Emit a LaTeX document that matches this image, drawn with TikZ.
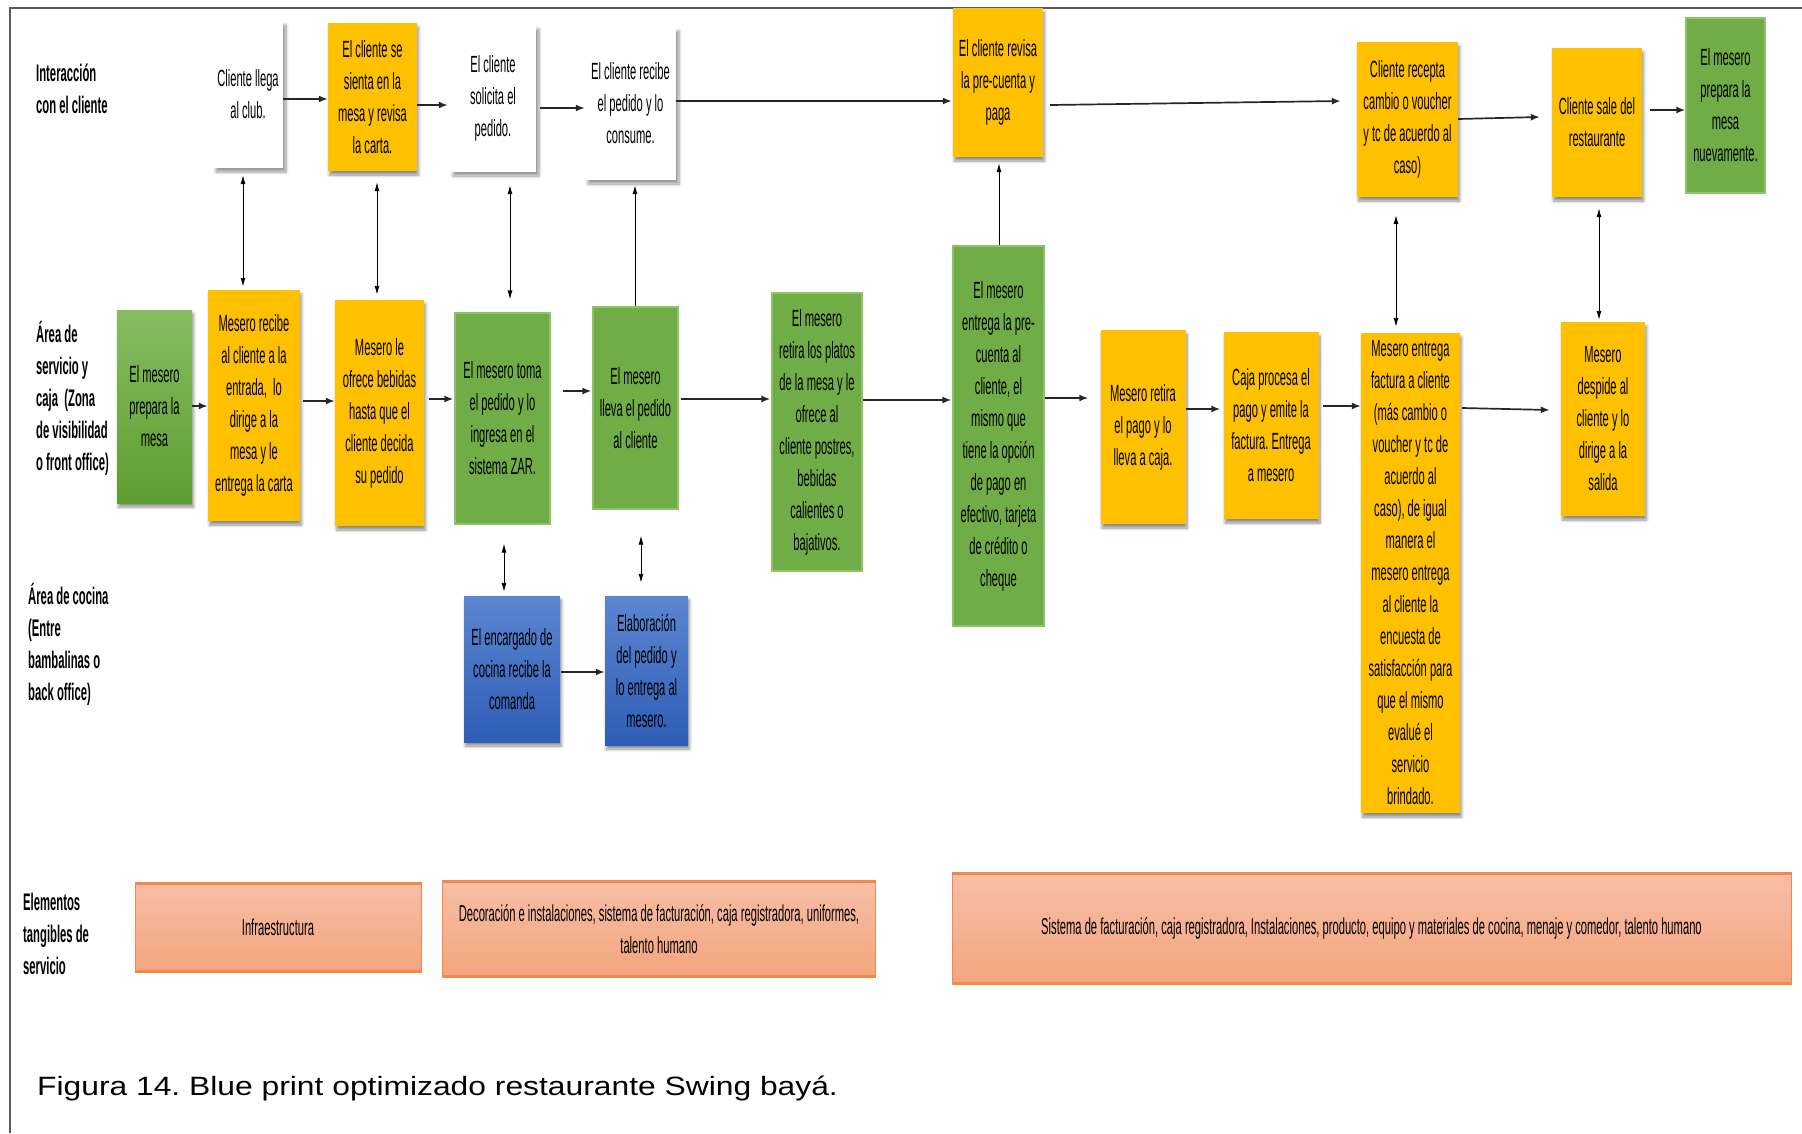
\documentclass[tikz,border=0pt]{standalone}
\usepackage{fontspec}
\setmainfont{Liberation Sans}
\newfontfamily\narrowsans[FakeStretch=0.477]{Liberation Sans}
\newfontfamily\tangsans[FakeStretch=0.487]{Liberation Sans}
\newfontfamily\lanesans[FakeStretch=0.47]{Liberation Sans}
\newfontfamily\widesans[FakeStretch=1.2]{Liberation Sans}
\usetikzlibrary{arrows.meta,calc,shadows.blur}
\frenchspacing

\definecolor{cOrange}{HTML}{FFC000}
\definecolor{cGreen}{HTML}{70AD47}
\definecolor{cGreenEdge}{HTML}{8EC36A}
\definecolor{cGreenTop}{HTML}{86BD60}
\definecolor{cGreenBot}{HTML}{5E9D32}
\definecolor{cBlueTop}{HTML}{5C86D1}
\definecolor{cBlueBot}{HTML}{2E5DB6}
\definecolor{cSalmonTop}{HTML}{F7BEA5}
\definecolor{cSalmonBot}{HTML}{F4A57E}
\definecolor{cSalmonEdge}{HTML}{F08A4B}
\definecolor{cFrame}{HTML}{5A5A5A}

\newcommand\bxfont{\narrowsans\fontsize{23.4pt}{32pt}\selectfont}
\newcommand\tgfont{\tangsans\fontsize{23pt}{32pt}\selectfont}
\newcommand\lnfont{\lanesans\bfseries\fontsize{24pt}{32pt}\selectfont}

\tikzset{
  box/.style={rectangle, inner sep=0pt, align=center, font=\bxfont, text=black},
  softshadow/.style={blur shadow={shadow xshift=1.5pt, shadow yshift=-4pt,
      shadow blur radius=3pt, shadow blur steps=6, shadow opacity=45}},
  whitebox/.style={box, fill=white, blur shadow={shadow xshift=3pt, shadow yshift=-4pt,
      shadow blur radius=3pt, shadow blur steps=6, shadow opacity=40}},
  orangebox/.style={box, fill=cOrange, softshadow},
  greenbox/.style={box, fill=cGreen, draw=cGreenEdge, line width=1.2pt},
  greengrad/.style={box, top color=cGreenTop, bottom color=cGreenBot, softshadow},
  bluebox/.style={box, top color=cBlueTop, bottom color=cBlueBot, softshadow},
  tanbox/.style={box, font=\tgfont, top color=cSalmonTop, bottom color=cSalmonBot,
      draw=cSalmonEdge, line width=1pt},
  tanedge/.style={draw=cSalmonEdge, line width=3pt},
  lane/.style={anchor=west, align=left, inner sep=0pt, font=\lnfont},
  arr/.style={-{Latex[length=9pt,width=7pt]}, line width=1.7pt, draw=black!85},
  varr/.style={{Latex[length=9pt,width=5pt]}-{Latex[length=9pt,width=5pt]}, line width=0.9pt},
  uparr/.style={-{Latex[length=9pt,width=5pt]}, line width=0.9pt}
}

\begin{document}
\begin{tikzpicture}[x=1pt, y=-1pt]
\useasboundingbox (0,0) rectangle (1802,1133);

% outer frame (top and left edges)
\draw[cFrame, line width=2pt] (10,1133) -- (10,7.5) -- (1802,7.5);

% lane titles
\node[lane] (lane1) at (36,89) {Interacción\\con el cliente};
\node[lane] (lane2) at (36,398) {Área de\\servicio y\\caja\ \ (Zona\\de visibilidad\\o front office)};
\node[lane] (lane3) at (28,644) {Área de cocina\\(Entre\\bambalinas o\\back office)};
\node[lane] (lane4) at (23,934) {Elementos\\tangibles de\\servicio};

% customer interaction
\node[whitebox, minimum width=70pt, minimum height=147pt] (c1) at (248,94.5) {Cliente llega\\al club.};
\node[orangebox, minimum width=89pt, minimum height=148pt] (c2) at (372.5,97) {El cliente se\\sienta en la\\mesa y revisa\\la carta.};
\node[whitebox, minimum width=86pt, minimum height=147pt] (c3) at (493,98.5) {El cliente\\solicita el\\pedido.};
\node[whitebox, minimum width=91pt, minimum height=153pt] (c4) at (630.5,103.5) {El cliente recibe\\el pedido y lo\\consume.};
\node[orangebox, minimum width=90pt, minimum height=149pt] (c5) at (998,82.5) {El cliente revisa\\la pre-cuenta y\\paga};
\node[orangebox, minimum width=101pt, minimum height=155pt] (c6) at (1407.5,119.5) {Cliente recepta\\cambio o voucher\\y tc de acuerdo al\\caso)};
\node[orangebox, minimum width=90pt, minimum height=149pt] (c7) at (1597,122.5) {Cliente sale del\\restaurante};
\node[greenbox, minimum width=79pt, minimum height=175pt] (c8) at (1725.5,105.5) {El mesero\\prepara la\\mesa\\nuevamente.};

% front office
\node[greengrad, minimum width=75pt, minimum height=193pt] (s1) at (154.5,406.5) {El mesero\\prepara la\\mesa};
\node[orangebox, minimum width=92pt, minimum height=231pt] (s2) at (254,405.5) {Mesero recibe\\al cliente a la\\entrada,\ \ lo\\dirige a la\\mesa y le\\entrega la carta};
\node[orangebox, minimum width=89pt, minimum height=226pt] (s3) at (379.5,413) {Mesero le\\ofrece bebidas\\hasta que el\\cliente decida\\su pedido};
\node[greenbox, minimum width=95pt, minimum height=211pt] (s4) at (502.5,418.5) {El mesero toma\\el pedido y lo\\ingresa en el\\sistema ZAR.};
\node[greenbox, minimum width=85pt, minimum height=202pt] (s5) at (635.5,408) {El mesero\\lleva el pedido\\al cliente};
\node[greenbox, minimum width=90pt, minimum height=278pt] (s6) at (817,432) {El mesero\\retira los platos\\de la mesa y le\\ofrece al\\cliente postres,\\bebidas\\calientes o\\bajativos.};
\node[greenbox, minimum width=91pt, minimum height=380pt] (s7) at (998.5,436) {El mesero\\entrega la pre-\\cuenta al\\cliente, el\\mismo que\\tiene la opción\\de pago en\\efectivo, tarjeta\\de crédito o\\cheque};
\node[orangebox, minimum width=85pt, minimum height=194pt] (s8) at (1143,427) {Mesero retira\\el pago y lo\\lleva a caja.};
\node[orangebox, minimum width=95pt, minimum height=187pt] (s9) at (1271,425.5) {Caja procesa el\\pago y emite la\\factura. Entrega\\a mesero};
\node[orangebox, minimum width=99pt, minimum height=480pt] (s10) at (1410.5,573) {Mesero entrega\\factura a cliente\\(más cambio o\\voucher y tc de\\acuerdo al\\caso), de igual\\manera el\\mesero entrega\\al cliente la\\encuesta de\\satisfacción para\\que el mismo\\evalué el\\servicio\\brindado.};
\node[orangebox, minimum width=84pt, minimum height=194pt] (s11) at (1603,419) {Mesero\\despide al\\cliente y lo\\dirige a la\\salida};

% kitchen
\node[bluebox, minimum width=96pt, minimum height=146pt] (k1) at (512,669) {El encargado de\\cocina recibe la\\comanda};
\node[bluebox, minimum width=83pt, minimum height=149pt] (k2) at (646.5,670.5) {Elaboración\\del pedido y\\lo entrega al\\mesero.};

% tangible elements
\node[tanbox, minimum width=286pt, minimum height=87pt] (t1) at (278,927.5) {Infraestructura};
\node[tanbox, minimum width=433pt, minimum height=94pt] (t2) at (659,929) {Decoración e instalaciones, sistema de facturación, caja registradora, uniformes,\\talento humano};
\node[tanbox, minimum width=839pt, minimum height=109pt] (t3) at (1371.5,928.5) {Sistema de facturación, caja registradora, Instalaciones, producto, equipo y materiales de cocina, menaje y comedor, talento humano};
\foreach \t in {t1,t2,t3}{
  \draw[tanedge] (\t.north west) -- (\t.north east);
  \draw[tanedge] (\t.south west) -- (\t.south east);
}

% caption
\node[anchor=base west, inner sep=0pt, font=\widesans\fontsize{26.5pt}{32pt}\selectfont] (cap) at (37,1095) {Figura 14. Blue print optimizado restaurante Swing bayá.};

% customer-line flow
\draw[arr] (c1.east |- 0,99) -- (c2.west |- 0,99);
\draw[arr] (c2.east |- 0,105) -- ($(c3.west |- 0,105)+(-2,0)$);
\draw[arr] ($(c3.east |- 0,108)+(4,0)$) -- (c4.west |- 0,108);
\draw[arr] (c4.east |- 0,101) -- ($(c5.west |- 0,101)+(-1,0)$);
\draw[arr] ($(c5.east |- 0,105)+(7,0)$) -- ($(c6.west |- 0,101)+(-16,0)$);
\draw[arr] (c6.east |- 0,119) -- ($(c7.west |- 0,117)+(-12,0)$);
\draw[arr] ($(c7.east |- 0,110)+(8,0)$) -- (c8.west |- 0,110);

% front office flow
\draw[arr] (s1.east |- 0,406) -- (s2.west |- 0,406);
\draw[arr] ($(s2.east |- 0,401)+(3,0)$) -- (s3.west |- 0,401);
\draw[arr] ($(s3.east |- 0,399)+(5,0)$) -- ($(s4.west |- 0,399)+(-1,0)$);
\draw[arr] ($(s4.east |- 0,391)+(12,0)$) -- ($(s5.west |- 0,391)+(-1,0)$);
\draw[arr] ($(s5.east |- 0,399)+(2,0)$) -- ($(s6.west |- 0,399)+(-1,0)$);
\draw[arr] (s6.east |- 0,400) -- ($(s7.west |- 0,400)+(-1,0)$);
\draw[arr] (s7.east |- 0,398) -- ($(s8.west |- 0,398)+(-12,0)$);
\draw[arr] (s8.east |- 0,409) -- ($(s9.west |- 0,409)+(-3,0)$);
\draw[arr] ($(s9.east |- 0,406)+(4,0)$) -- (s10.west |- 0,406);
\draw[arr] ($(s10.east |- 0,408)+(2,0)$) -- ($(s11.west |- 0,410)+(-11,0)$);

% kitchen flow
\draw[arr] ($(k1.east |- 0,672)+(1,0)$) -- (k2.west |- 0,672);

% links between lanes
\draw[varr] ($(c1.south -| 243,0)+(0,7)$) -- ($(s2.north -| 243,0)+(0,-3)$);
\draw[varr] ($(c2.south -| 377,0)+(0,11)$) -- ($(s3.north -| 377,0)+(0,-5)$);
\draw[varr] ($(c3.south -| 510,0)+(0,13)$) -- ($(s4.north -| 510,0)+(0,-13)$);
\draw[uparr] (s5.north -| 635,0) -- ($(c4.south -| 635,0)+(0,5)$);
\draw[uparr] (s7.north -| 999,0) -- ($(c5.south -| 999,0)+(0,6)$);
\draw[varr] ($(c6.south -| 1396,0)+(0,18)$) -- ($(s10.north -| 1396,0)+(0,-6)$);
\draw[varr] ($(c7.south -| 1599,0)+(0,11)$) -- ($(s11.north -| 1599,0)+(0,-2)$);
\draw[varr] ($(s4.south -| 504,0)+(0,19)$) -- ($(k1.north -| 504,0)+(0,-4)$);
\draw[varr] ($(s5.south -| 641,0)+(0,26)$) -- ($(k2.north -| 641,0)+(0,-13)$);
\end{tikzpicture}
\end{document}
